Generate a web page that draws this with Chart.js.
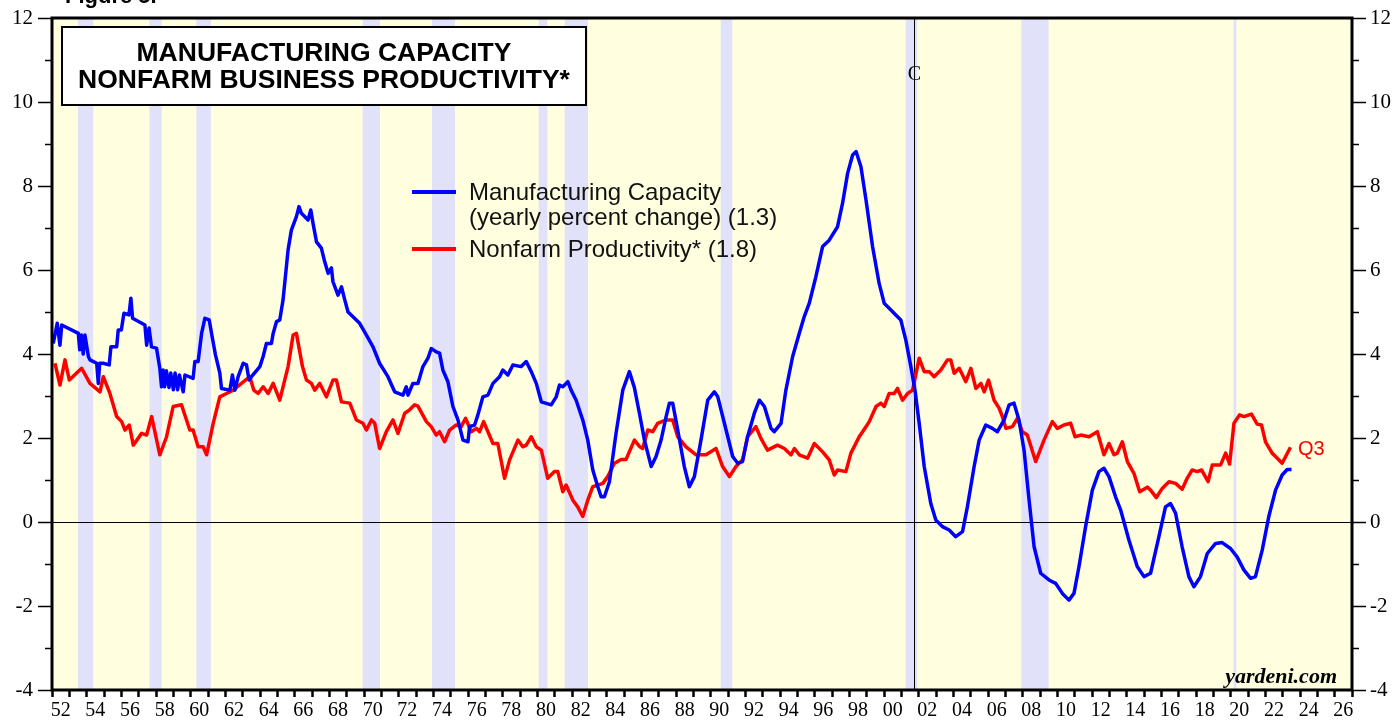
<!DOCTYPE html>
<html>
<head>
<meta charset="utf-8">
<title>Manufacturing Capacity / Nonfarm Business Productivity</title>
<script src="https://cdn.jsdelivr.net/npm/chart.js@4.4.0/dist/chart.umd.min.js"></script>
<style>
  html, body { margin: 0; padding: 0; background: #fff; }
  canvas { display: block; }
</style>
</head>
<body>
<canvas id="chart" width="1394" height="721"></canvas>
<script>
// Manufacturing capacity, yearly percent change (blue)
const capYears = [
  1952.07, 1952.3, 1952.46, 1952.56, 1953.52, 1953.6, 1953.7, 1953.8, 1953.9, 1954.1,
  1954.19, 1954.58, 1954.67, 1954.75, 1954.95, 1955.3, 1955.4, 1955.73, 1955.82, 1956.0,
  1956.15, 1956.44, 1956.55, 1956.65, 1957.36, 1957.46, 1957.6, 1957.74, 1958.03, 1958.22,
  1958.32, 1958.41, 1958.5, 1958.6, 1958.75, 1958.85, 1959.0, 1959.1, 1959.25, 1959.35,
  1959.57, 1959.67, 1960.14, 1960.24, 1960.43, 1960.63, 1960.82, 1961.07, 1961.24, 1961.43,
  1961.68, 1961.78, 1962.26, 1962.41, 1962.55, 1962.74, 1963.03, 1963.22, 1963.37, 1963.51,
  1963.99, 1964.18, 1964.37, 1964.66, 1964.76, 1964.95, 1965.14, 1965.33, 1965.62, 1965.81,
  1966.1, 1966.25, 1966.39, 1966.77, 1966.93, 1967.06, 1967.26, 1967.54, 1967.73, 1967.93,
  1968.12, 1968.21, 1968.5, 1968.7, 1968.89, 1969.08, 1969.75, 1970.14, 1970.52, 1970.9,
  1971.38, 1971.77, 1972.25, 1972.44, 1972.54, 1972.82, 1973.11, 1973.4, 1973.69, 1973.88,
  1974.17, 1974.36, 1974.55, 1974.84, 1975.13, 1975.42, 1975.71, 1976.0, 1976.09, 1976.38,
  1976.57, 1976.86, 1977.15, 1977.44, 1977.82, 1978.01, 1978.3, 1978.59, 1979.07, 1979.36,
  1979.65, 1979.94, 1980.23, 1980.8, 1981.09, 1981.28, 1981.47, 1981.76, 1981.95, 1982.24,
  1982.62, 1982.91, 1983.2, 1983.49, 1983.68, 1983.87, 1984.16, 1984.54, 1984.93, 1985.31,
  1985.6, 1985.89, 1986.18, 1986.57, 1986.85, 1987.14, 1987.43, 1987.62, 1987.81, 1988.1,
  1988.48, 1988.77, 1989.06, 1989.44, 1989.83, 1990.21, 1990.41, 1990.89, 1991.27, 1991.56,
  1991.84, 1992.13, 1992.52, 1992.81, 1993.1, 1993.48, 1993.67, 1994.06, 1994.34, 1994.73,
  1995.11, 1995.4, 1995.69, 1996.07, 1996.46, 1996.84, 1997.32, 1997.61, 1997.9, 1998.19,
  1998.39, 1998.67, 1998.96, 1999.34, 1999.72, 2000.01, 2000.4, 2000.68, 2000.97, 2001.26,
  2001.55, 2001.8, 2002.03, 2002.32, 2002.7, 2002.99, 2003.37, 2003.76, 2004.14, 2004.53,
  2004.81, 2005.2, 2005.49, 2005.87, 2006.25, 2006.54, 2006.93, 2007.22, 2007.5, 2007.79,
  2008.08, 2008.37, 2008.66, 2009.04, 2009.52, 2009.9, 2010.29, 2010.67, 2010.96, 2011.25,
  2011.63, 2012.02, 2012.4, 2012.69, 2012.98, 2013.36, 2013.65, 2014.13, 2014.61, 2015.0,
  2015.38, 2015.86, 2016.24, 2016.53, 2016.82, 2017.2, 2017.59, 2017.88, 2018.26, 2018.65,
  2019.13, 2019.51, 2019.99, 2020.37, 2020.76, 2021.15, 2021.43, 2021.82, 2022.2, 2022.59,
  2022.97, 2023.26, 2023.51
];
const capValues = [
  4.25, 4.73, 4.21, 4.69, 4.49, 4.1, 4.45, 4.0, 4.45, 3.94,
  3.86, 3.78, 3.3, 3.78, 3.78, 3.74, 4.17, 4.17, 4.57, 4.57,
  4.97, 4.93, 5.33, 4.85, 4.69, 4.21, 4.62, 4.17, 4.14, 3.66,
  3.22, 3.62, 3.22, 3.6, 3.2, 3.55, 3.15, 3.55, 3.15, 3.5,
  3.1, 3.5, 3.42, 3.82, 3.82, 4.49, 4.85, 4.81, 4.41, 3.98,
  3.55, 3.18, 3.14, 3.5, 3.14, 3.46, 3.78, 3.74, 3.38, 3.46,
  3.7, 3.94, 4.25, 4.25, 4.49, 4.77, 4.81, 5.29, 6.48, 6.95,
  7.27, 7.51, 7.35, 7.19, 7.43, 7.11, 6.67, 6.52, 6.2, 5.92,
  6.05, 5.72, 5.4, 5.6, 5.29, 5.0, 4.73, 4.45, 4.17, 3.78,
  3.46, 3.1, 3.02, 3.22, 3.02, 3.3, 3.3, 3.7, 3.9, 4.13,
  4.05, 4.02, 3.62, 3.34, 2.75, 2.43, 1.95, 1.91, 2.27, 2.31,
  2.55, 2.98, 3.02, 3.3, 3.46, 3.62, 3.5, 3.74, 3.7, 3.82,
  3.58, 3.3, 2.86, 2.79, 2.98, 3.26, 3.22, 3.34, 3.14, 2.9,
  2.43, 1.95, 1.24, 0.84, 0.6, 0.6, 0.96, 2.11, 3.14, 3.58,
  3.2, 2.59, 1.95, 1.32, 1.56, 1.95, 2.51, 2.83, 2.83, 2.19,
  1.32, 0.84, 1.08, 1.95, 2.9, 3.1, 2.98, 2.19, 1.56, 1.4,
  1.44, 2.03, 2.59, 2.9, 2.75, 2.23, 2.15, 2.35, 3.14, 3.94,
  4.49, 4.89, 5.21, 5.84, 6.56, 6.71, 7.03, 7.59, 8.3, 8.74,
  8.82, 8.46, 7.67, 6.56, 5.68, 5.21, 5.05, 4.93, 4.81, 4.33,
  3.7, 3.1, 2.35, 1.32, 0.44, 0.05, -0.11, -0.19, -0.35, -0.23,
  0.36, 1.32, 1.95, 2.31, 2.23, 2.15, 2.43, 2.79, 2.83, 2.43,
  1.71, 0.52, -0.59, -1.22, -1.38, -1.46, -1.7, -1.86, -1.7, -1.06,
  -0.11, 0.76, 1.2, 1.28, 1.08, 0.6, 0.29, -0.43, -1.06, -1.3,
  -1.22, -0.35, 0.36, 0.44, 0.21, -0.59, -1.3, -1.54, -1.3, -0.75,
  -0.51, -0.49, -0.63, -0.83, -1.14, -1.34, -1.3, -0.67, 0.13, 0.76,
  1.12, 1.25, 1.25
];

// Nonfarm business productivity, yearly percent change (red)
const prodYears = [
  1952.17, 1952.46, 1952.75, 1953.0, 1953.71, 1954.19, 1954.77, 1954.96, 1955.34, 1955.73,
  1956.02, 1956.21, 1956.46, 1956.69, 1957.17, 1957.46, 1957.75, 1958.22, 1958.61, 1958.99,
  1959.47, 1959.95, 1960.14, 1960.43, 1960.72, 1960.92, 1961.3, 1961.68, 1962.07, 1962.45,
  1962.93, 1963.41, 1963.64, 1963.89, 1964.18, 1964.47, 1964.76, 1965.14, 1965.62, 1965.91,
  1966.1, 1966.45, 1966.68, 1966.97, 1967.16, 1967.45, 1967.83, 1968.21, 1968.41, 1968.7,
  1969.18, 1969.56, 1969.94, 1970.14, 1970.43, 1970.62, 1970.9, 1971.29, 1971.67, 1971.96,
  1972.35, 1972.63, 1972.92, 1973.11, 1973.6, 1973.88, 1974.17, 1974.36, 1974.65, 1974.94,
  1975.32, 1975.61, 1975.86, 1976.19, 1976.48, 1976.67, 1976.9, 1977.15, 1977.44, 1977.72,
  1978.11, 1978.4, 1978.88, 1979.16, 1979.36, 1979.65, 1979.94, 1980.23, 1980.6, 1980.99,
  1981.18, 1981.47, 1981.66, 1982.05, 1982.33, 1982.62, 1982.91, 1983.2, 1983.78, 1984.06,
  1984.45, 1984.83, 1985.12, 1985.6, 1985.89, 1986.08, 1986.37, 1986.66, 1986.94, 1987.43,
  1987.81, 1988.1, 1988.58, 1989.16, 1989.73, 1990.31, 1990.69, 1991.08, 1991.46, 1991.84,
  1992.13, 1992.61, 1992.9, 1993.28, 1993.86, 1994.25, 1994.63, 1994.83, 1995.11, 1995.59,
  1995.98, 1996.46, 1996.84, 1997.13, 1997.32, 1997.8, 1998.09, 1998.57, 1998.96, 1999.15,
  1999.54, 1999.82, 2000.01, 2000.3, 2000.59, 2000.78, 2001.07, 2001.36, 2001.65, 2002.03,
  2002.32, 2002.61, 2002.89, 2003.28, 2003.66, 2003.85, 2004.05, 2004.34, 2004.72, 2005.01,
  2005.3, 2005.59, 2005.78, 2006.03, 2006.35, 2006.64, 2006.83, 2007.03, 2007.41, 2007.7,
  2007.98, 2008.27, 2008.75, 2009.23, 2009.71, 2010.0, 2010.38, 2010.77, 2011.02, 2011.35,
  2011.83, 2012.31, 2012.69, 2012.98, 2013.27, 2013.46, 2013.75, 2014.04, 2014.42, 2014.75,
  2015.19, 2015.38, 2015.71, 2016.05, 2016.44, 2016.82, 2017.2, 2017.49, 2017.78, 2018.07,
  2018.32, 2018.7, 2018.94, 2019.42, 2019.71, 2019.94, 2020.19, 2020.51, 2020.76, 2021.2,
  2021.53, 2021.78, 2022.01, 2022.39, 2022.59, 2022.97, 2023.45
];
const prodValues = [
  3.78, 3.26, 3.86, 3.38, 3.66, 3.3, 3.1, 3.46, 3.06, 2.51,
  2.39, 2.19, 2.31, 1.83, 2.11, 2.07, 2.51, 1.6, 2.03, 2.75,
  2.79, 2.19, 2.19, 1.79, 1.79, 1.6, 2.35, 2.98, 3.06, 3.14,
  3.3, 3.46, 3.14, 3.06, 3.22, 3.06, 3.3, 2.9, 3.7, 4.45,
  4.49, 3.7, 3.38, 3.3, 3.14, 3.3, 2.98, 3.38, 3.38, 2.86,
  2.83, 2.43, 2.35, 2.19, 2.43, 2.35, 1.75, 2.15, 2.43, 2.11,
  2.59, 2.67, 2.79, 2.76, 2.39, 2.27, 2.07, 2.15, 1.91, 2.19,
  2.31, 2.27, 2.47, 2.15, 2.23, 2.15, 2.39, 2.15, 1.87, 1.87,
  1.04, 1.48, 1.95, 1.79, 1.83, 2.03, 1.79, 1.71, 1.04, 1.2,
  1.2, 0.72, 0.88, 0.52, 0.36, 0.13, 0.52, 0.84, 0.92, 1.08,
  1.4, 1.49, 1.49, 1.95, 1.8, 1.75, 2.19, 2.15, 2.35, 2.43,
  2.43, 2.03, 1.79, 1.6, 1.6, 1.75, 1.32, 1.08, 1.32, 1.48,
  2.03, 2.27, 1.99, 1.71, 1.83, 1.75, 1.6, 1.75, 1.6, 1.52,
  1.87, 1.67, 1.48, 1.12, 1.24, 1.2, 1.64, 2.03, 2.27, 2.39,
  2.75, 2.83, 2.75, 3.06, 3.06, 3.18, 2.9, 3.06, 3.14, 3.9,
  3.58, 3.58, 3.46, 3.62, 3.86, 3.86, 3.54, 3.66, 3.34, 3.66,
  3.18, 3.3, 3.1, 3.38, 2.9, 2.71, 2.51, 2.23, 2.27, 2.47,
  2.15, 2.07, 1.44, 1.95, 2.39, 2.23, 2.31, 2.35, 2.03, 2.07,
  2.03, 2.15, 1.6, 1.87, 1.6, 1.64, 1.91, 1.44, 1.16, 0.72,
  0.83, 0.76, 0.58, 0.8, 0.96, 0.92, 0.78, 1.04, 1.24, 1.2,
  1.24, 0.96, 1.36, 1.36, 1.64, 1.38, 2.35, 2.55, 2.51, 2.57,
  2.33, 2.31, 1.91, 1.64, 1.56, 1.4, 1.78
];

// recessions (shaded)
const recessionStart = [1953.5, 1957.62, 1960.33, 1969.92, 1973.92, 1980.08, 1981.58, 1990.58, 2001.25, 2007.92, 2020.17];
const recessionEnd   = [1954.38, 1958.33, 1961.17, 1970.92, 1975.25, 1980.58, 1982.92, 1991.25, 2001.92, 2009.5, 2020.33];

const breakYear = 2001.74;   // "C" marker line
const yearLabels = [];        // 52, 54, ... 26 placed mid-year
for (let yr = 1952; yr <= 2026; yr += 2) yearLabels.push(yr);

const serif = '"Liberation Serif", "Times New Roman", serif';
const sans = '"Liberation Sans", Arial, sans-serif';

function toPoints(xs, ys) {
  return xs.map((v, i) => ({ x: v, y: ys[i] }));
}

// Background + recession bands
const backdrop = {
  id: 'backdrop',
  beforeDraw(chart) {
    const { ctx, chartArea: a, scales: { x } } = chart;
    ctx.save();
    ctx.fillStyle = '#FFFFE0';
    ctx.fillRect(a.left, a.top, a.right - a.left, a.bottom - a.top);
    ctx.fillStyle = '#E1E1FA';
    recessionStart.forEach((s, i) => {
      const x0 = x.getPixelForValue(s);
      const x1 = x.getPixelForValue(recessionEnd[i]);
      ctx.fillRect(x0, a.top, x1 - x0, a.bottom - a.top);
    });
    ctx.restore();
  },
  beforeDatasetsDraw(chart) {
    const { ctx, chartArea: a, scales: { x } } = chart;
    const bx = Math.round(x.getPixelForValue(breakYear)) + 0.5;
    ctx.save();
    ctx.strokeStyle = '#000';
    ctx.lineWidth = 1;
    ctx.beginPath();
    ctx.moveTo(bx, a.top);
    ctx.lineTo(bx, a.bottom);
    ctx.stroke();
    ctx.fillStyle = '#000';
    ctx.font = '20px ' + serif;
    ctx.textAlign = 'center';
    ctx.fillText('C', bx, 80);
    ctx.restore();
  }
};

// Frame, minor ticks, title box, legend and notes
const decorations = {
  id: 'decorations',
  afterDraw(chart) {
    const { ctx, chartArea: a, scales: { y } } = chart;
    ctx.save();

    // minor ticks on both y axes
    ctx.strokeStyle = '#000';
    ctx.lineWidth = 1.5;
    for (let v = -3; v <= 11; v += 2) {
      const py = Math.round(y.getPixelForValue(v)) + 0.5;
      ctx.beginPath();
      ctx.moveTo(a.left - 7, py); ctx.lineTo(a.left, py);
      ctx.moveTo(a.right, py); ctx.lineTo(a.right + 7, py);
      ctx.stroke();
    }

    // plot frame
    ctx.lineWidth = 3;
    ctx.strokeRect(a.left, a.top, a.right - a.left, a.bottom - a.top);

    // title box
    ctx.fillStyle = '#fff';
    ctx.fillRect(62, 27, 524, 78);
    ctx.lineWidth = 2;
    ctx.strokeRect(62, 27, 524, 78);
    ctx.fillStyle = '#000';
    ctx.font = 'bold 26.5px ' + sans;
    ctx.textAlign = 'center';
    ctx.fillText('MANUFACTURING CAPACITY', 324, 61);
    ctx.fillText('NONFARM BUSINESS PRODUCTIVITY*', 324, 88);

    // legend
    ctx.lineWidth = 4;
    ctx.strokeStyle = '#0000FF';
    ctx.beginPath(); ctx.moveTo(412, 192); ctx.lineTo(456, 192); ctx.stroke();
    ctx.strokeStyle = '#FF0000';
    ctx.beginPath(); ctx.moveTo(412, 249); ctx.lineTo(456, 249); ctx.stroke();
    ctx.textAlign = 'left';
    ctx.font = '24px ' + sans;
    ctx.fillStyle = '#111';
    ctx.fillText('Manufacturing Capacity', 469, 200);
    ctx.fillText('(yearly percent change) (1.3)', 469, 225);
    ctx.fillText('Nonfarm Productivity* (1.8)', 469, 257);

    // last-quarter note
    ctx.fillStyle = '#FF0000';
    ctx.font = '20px ' + sans;
    ctx.fillText('Q3', 1298, 455);

    // source
    ctx.fillStyle = '#000';
    ctx.textAlign = 'right';
    ctx.font = 'bold italic 22px ' + serif;
    ctx.fillText('yardeni.com', 1337, 683);

    // figure caption (cut off at top)
    ctx.textAlign = 'left';
    ctx.font = 'bold 22px ' + sans;
    ctx.fillText('Figure 5.', 65, 3);

    ctx.restore();
  }
};

const ctx = document.getElementById('chart').getContext('2d');
const chart = new Chart(ctx, {
  type: 'line',
  data: {
    datasets: [
      {
        label: 'Manufacturing Capacity (yearly percent change) (1.3)',
        data: toPoints(capYears, capValues),
        borderColor: '#0000FF',
        borderWidth: 3.5,
        pointRadius: 0,
        borderJoinStyle: 'round',
        tension: 0
      },
      {
        label: 'Nonfarm Productivity* (1.8)',
        data: toPoints(prodYears, prodValues),
        borderColor: '#FF0000',
        borderWidth: 3.5,
        pointRadius: 0,
        borderJoinStyle: 'round',
        tension: 0
      }
    ]
  },
  options: {
    responsive: false,
    animation: false,
    devicePixelRatio: 1,
    layout: { padding: { top: 18, left: 0, right: 0, bottom: 0 } },
    plugins: {
      legend: { display: false },
      title: { display: false },
      tooltip: { enabled: false }
    },
    scales: {
      x: {
        type: 'linear',
        min: 1952,
        max: 2027,
        afterBuildTicks: (scale) => {
          const t = [];
          for (let v = 1952; v <= 2027; v += 0.5) t.push({ value: v });
          scale.ticks = t;
        },
        afterFit: (scale) => { scale.height = 31; },
        border: { display: false },
        grid: {
          drawOnChartArea: false,
          tickLength: 7,
          tickWidth: 2.5,
          tickColor: (c) => (c.tick && c.tick.value % 1 === 0 ? '#000' : 'rgba(0,0,0,0)')
        },
        ticks: {
          autoSkip: false,
          maxRotation: 0,
          padding: 2,
          color: '#000',
          font: { family: serif, size: 20 },
          callback: (value) => {
            const yr = Math.floor(value);
            if (value % 1 === 0 || !yearLabels.includes(yr)) return '';
            return String(yr % 100).padStart(2, '0');
          }
        }
      },
      y: {
        position: 'left',
        min: -4,
        max: 12,
        afterFit: (scale) => { scale.width = 52; },
        border: { display: false },
        grid: {
          color: (c) => (c.tick && c.tick.value === 0 ? '#000' : 'rgba(0,0,0,0)'),
          lineWidth: 1,
          tickColor: '#000',
          tickWidth: 1.5,
          tickLength: 14
        },
        ticks: {
          stepSize: 2,
          padding: 5,
          color: '#000',
          font: { family: serif, size: 21 }
        }
      },
      y2: {
        position: 'right',
        min: -4,
        max: 12,
        afterFit: (scale) => { scale.width = 42; },
        border: { display: false },
        grid: {
          drawOnChartArea: false,
          tickColor: '#000',
          tickWidth: 1.5,
          tickLength: 14
        },
        ticks: {
          stepSize: 2,
          padding: 4,
          color: '#000',
          font: { family: serif, size: 21 }
        }
      }
    }
  },
  plugins: [backdrop, decorations]
});
</script>
</body>
</html>
